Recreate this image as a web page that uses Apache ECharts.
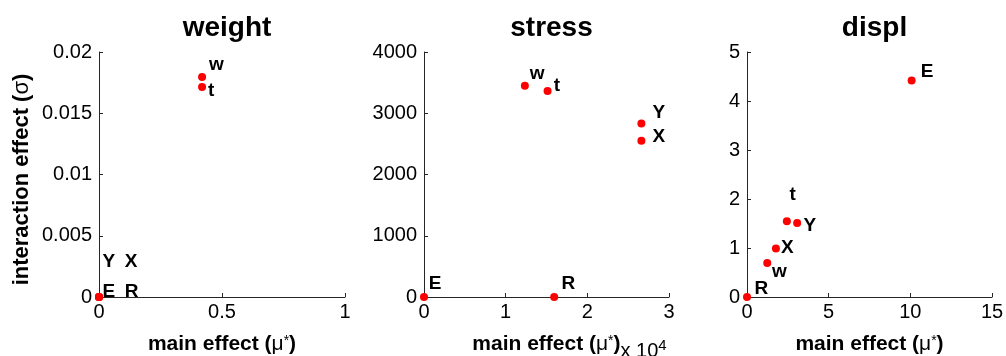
<!DOCTYPE html>
<html><head><meta charset="utf-8">
<script src="https://cdn.jsdelivr.net/npm/echarts@6/dist/echarts.min.js"></script>
<style>html,body{margin:0;padding:0;background:#fff}#c{width:1006px;height:356px}</style>
</head><body><div id="c"></div>
<script>
// ---- data ----
const names = ['w', 't', 'E', 'R', 'X', 'Y'];
const weightMu    = [0.419, 0.419, 0, 0, 0, 0];
const weightSigma = [0.01796, 0.01714, 0, 0, 0, 0];
const stressMu    = [12350, 15130, 0, 15940, 26620, 26620];
const stressSigma = [3451, 3363, 0, 0, 2553, 2831];
const displMu     = [1.24, 2.44, 10.08, 0, 1.77, 3.07];
const displSigma  = [0.694, 1.545, 4.416, 0, 0.988, 1.51];
const titles = ['weight', 'stress', 'displ'];
const weightXTicks = [0, 0.5, 1];
const weightYTicks = [0, 0.005, 0.01, 0.015, 0.02];
const stressXTicks = [0, 10000, 20000, 30000];
const stressYTicks = [0, 1000, 2000, 3000, 4000];
const displXTicks = [0, 5, 10, 15];
const displYTicks = [0, 1, 2, 3, 4, 5];

// ---- layout / style ----
const FONT = "'Liberation Sans', Arial, Helvetica, sans-serif";
const AX = '#262626';
const grids = [
  {left: 99, top: 52, width: 246, height: 245},
  {left: 424, top: 52, width: 245, height: 245},
  {left: 747, top: 52, width: 245, height: 245}
];
const labelOffsets = [
  {w: [7, -12], t: [6, 3.4], E: [3.4, -5], R: [25.7, -5], X: [25.7, -35], Y: [3.4, -35]},
  {w: [5, -12], t: [6.3, -5.6], E: [4.7, -13.3], R: [7.4, -13.3], X: [11, -3.6], Y: [11, -10.6]},
  {w: [4.7, 9], t: [2.6, -26.6], E: [9, -8.6], R: [7.6, -8.3], X: [5, -1], Y: [6.3, 2.3]}
];
const panels = [
  {mu: weightMu, sigma: weightSigma, xt: weightXTicks, yt: weightYTicks, xf: v => String(v)},
  {mu: stressMu, sigma: stressSigma, xt: stressXTicks, yt: stressYTicks, xf: v => String(v / 10000)},
  {mu: displMu, sigma: displSigma, xt: displXTicks, yt: displYTicks, xf: v => String(v)}
];

const richName = {
  b:   {fontFamily: FONT, fontSize: 21, fontWeight: 'bold', color: '#000', lineHeight: 22, verticalAlign: 'top'},
  mu:  {fontFamily: FONT, fontSize: 21, fontWeight: 'normal', color: '#000', lineHeight: 22, verticalAlign: 'top'},
  sup: {fontFamily: FONT, fontSize: 14, fontWeight: 'normal', color: '#000', lineHeight: 14, verticalAlign: 'top'},
  sp:  {fontFamily: FONT, fontSize: 10, width: 46, lineHeight: 27},
  r:   {fontFamily: FONT, fontSize: 20, fontWeight: 'normal', color: '#000', lineHeight: 20, verticalAlign: 'bottom'},
  sup2:{fontFamily: FONT, fontSize: 15, fontWeight: 'normal', color: '#000', lineHeight: 15, verticalAlign: 'top', padding: [4, 0, 0, 0]}
};
const richYName = {
  b:   {fontFamily: FONT, fontSize: 22, fontWeight: 'bold', color: '#000', lineHeight: 23},
  mu:  {fontFamily: FONT, fontSize: 22, fontWeight: 'normal', color: '#000', lineHeight: 23},
  sp:  {fontFamily: FONT, fontSize: 10, width: 10, lineHeight: 23}
};
const xNameBase = '{b|main effect (}{mu|μ}{sup|*}{b|)}';

function axisCommon(ticks, fmt) {
  return {
    type: 'value',
    min: ticks[0], max: ticks[ticks.length - 1], interval: ticks[1] - ticks[0],
    splitLine: {show: false},
    axisLine: {show: true, lineStyle: {color: AX, width: 1}},
    axisTick: {show: true, inside: true, length: 4, lineStyle: {color: AX}},
    axisLabel: {fontFamily: FONT, fontSize: 20, color: '#000', formatter: fmt}
  };
}

const option = {
  animation: false,
  backgroundColor: '#fff',
  title: titles.map((t, i) => ({
    text: t,
    left: grids[i].left + grids[i].width / 2,
    top: 9,
    textAlign: 'center',
    textStyle: {fontFamily: FONT, fontSize: 28, fontWeight: 'bold', color: '#000'}
  })),
  grid: grids.map(g => Object.assign({containLabel: false, outerBoundsMode: 'none'}, g)),
  xAxis: panels.map((p, i) => Object.assign(axisCommon(p.xt, p.xf), {
    gridIndex: i,
    axisLabel: {fontFamily: FONT, fontSize: 20, color: '#000', margin: 5, formatter: p.xf},
    name: i === 1 ? '{sp| }' + xNameBase + '{r|x 10}{sup2|4}' : xNameBase,
    nameLocation: 'middle',
    nameGap: 37,
    nameTextStyle: {fontFamily: FONT, fontSize: 21, fontWeight: 'bold', color: '#000', rich: richName}
  })),
  yAxis: panels.map((p, i) => Object.assign(axisCommon(p.yt, v => String(v)), {
    gridIndex: i,
    axisLabel: {fontFamily: FONT, fontSize: 20, color: '#000', margin: 7, formatter: v => String(v)},
    name: i === 0 ? '{b|interaction effect (}{mu|σ}{b|)}{sp| }' : '',
    nameLocation: 'middle',
    nameGap: 66,
    nameTextStyle: {fontFamily: FONT, fontSize: 22, fontWeight: 'bold', color: '#000', rich: richYName}
  })),
  series: panels.map((p, i) => ({
    type: 'scatter',
    xAxisIndex: i, yAxisIndex: i,
    clip: false,
    symbol: 'circle',
    symbolSize: 8,
    itemStyle: {color: '#ff0000', opacity: 1},
    label: {
      show: true, position: 'inside', align: 'left', verticalAlign: 'middle',
      formatter: '{b}', fontFamily: FONT, fontSize: 19, fontWeight: 'bold', color: '#000', opacity: 1
    },
    data: names.map((n, k) => ({
      name: n,
      value: [p.mu[k], p.sigma[k]],
      label: {offset: labelOffsets[i][n]}
    }))
  }))
};
const chart = echarts.init(document.getElementById('c'), null, {renderer: 'canvas'});
chart.setOption(option);
</script></body></html>
